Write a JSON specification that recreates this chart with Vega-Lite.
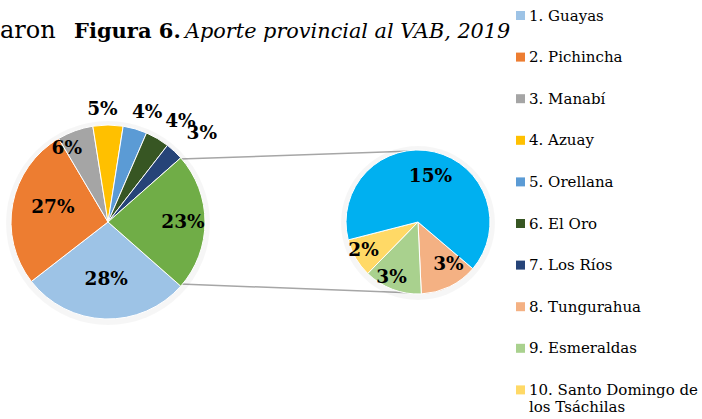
{
  "$schema": "https://vega.github.io/schema/vega-lite/v6.json",
  "width": 702,
  "height": 419,
  "autosize": {"type": "none"},
  "padding": 0,
  "background": "white",
  "config": {"view": {"stroke": null}, "font": "DejaVu Serif"},
  "datasets": {
    "principal": [
      {"prov": "1. Guayas", "pct": 0.28, "ord": 1},
      {"prov": "2. Pichincha", "pct": 0.27, "ord": 2},
      {"prov": "3. Manabí", "pct": 0.06, "ord": 3},
      {"prov": "4. Azuay", "pct": 0.05, "ord": 4},
      {"prov": "5. Orellana", "pct": 0.04, "ord": 5},
      {"prov": "6. El Oro", "pct": 0.04, "ord": 6},
      {"prov": "7. Los Ríos", "pct": 0.03, "ord": 7},
      {"prov": "Otras provincias", "pct": 0.23, "ord": 8}
    ],
    "secundario": [
      {"prov": "8. Tungurahua", "pct": 0.03, "ord": 1},
      {"prov": "9. Esmeraldas", "pct": 0.03, "ord": 2},
      {"prov": "10. Santo Domingo de los Tsáchilas", "pct": 0.02, "ord": 3},
      {"prov": "Resto", "pct": 0.15, "ord": 4}
    ],
    "titulo": [{"a": "aron", "b": "Figura 6.", "c": "Aporte provincial al VAB, 2019"}]
  },
  "layer": [
    {
      "data": {"values": [{}]},
      "mark": {"type": "rule", "stroke": "#A6A6A6", "strokeWidth": 1.5},
      "encoding": {
        "x": {"datum": 180, "type": "quantitative", "scale": {"domain": [0, 702], "nice": false, "zero": false}, "axis": null},
        "y": {"datum": 159, "type": "quantitative", "scale": {"domain": [0, 419], "nice": false, "zero": false, "reverse": true}, "axis": null},
        "x2": {"datum": 413},
        "y2": {"datum": 151}
      }
    },
    {
      "data": {"values": [{}]},
      "mark": {"type": "rule", "stroke": "#A6A6A6", "strokeWidth": 1.5},
      "encoding": {
        "x": {"datum": 180, "type": "quantitative"},
        "y": {"datum": 284, "type": "quantitative"},
        "x2": {"datum": 415},
        "y2": {"datum": 293}
      }
    },
    {
      "data": {"values": [{}]},
      "mark": {"type": "arc", "outerRadius": 102, "fill": "#000000", "opacity": 0.035},
      "encoding": {
        "x": {"datum": 108, "type": "quantitative"},
        "y": {"datum": 223, "type": "quantitative"}
      }
    },
    {
      "data": {"values": [{}]},
      "mark": {"type": "arc", "outerRadius": 77, "fill": "#000000", "opacity": 0.035},
      "encoding": {
        "x": {"datum": 418, "type": "quantitative"},
        "y": {"datum": 223, "type": "quantitative"}
      }
    },
    {
      "data": {"name": "principal"},
      "mark": {"type": "arc", "outerRadius": 97, "stroke": "white", "strokeWidth": 1},
      "encoding": {
        "x": {"datum": 108, "type": "quantitative"},
        "y": {"datum": 222, "type": "quantitative"},
        "theta": {"field": "pct", "type": "quantitative", "stack": true, "scale": {"range": [2.2934, 8.5766]}},
        "order": {"field": "ord", "type": "quantitative"},
        "color": {
          "field": "prov", "type": "nominal",
          "scale": {
            "domain": ["1. Guayas", "2. Pichincha", "3. Manabí", "4. Azuay", "5. Orellana", "6. El Oro", "7. Los Ríos", "8. Tungurahua", "9. Esmeraldas", "10. Santo Domingo de los Tsáchilas", "Otras provincias", "Resto"],
            "range": ["#9DC3E6", "#ED7D31", "#A5A5A5", "#FFC000", "#5B9BD5", "#375623", "#264478", "#F4B183", "#A9D18E", "#FFD966", "#70AD47", "#00B0F0"]
          },
          "legend": {
            "values": ["1. Guayas", "2. Pichincha", "3. Manabí", "4. Azuay", "5. Orellana", "6. El Oro", "7. Los Ríos", "8. Tungurahua", "9. Esmeraldas", "10. Santo Domingo de los Tsáchilas"],
            "title": null,
            "orient": "none",
            "legendX": 513,
            "legendY": 8,
            "padding": 0,
            "symbolType": "square",
            "symbolSize": 81,
            "symbolStrokeWidth": 0,
            "labelFont": "DejaVu Serif",
            "labelFontSize": 15,
            "labelColor": "#000000",
            "labelOffset": 1,
            "rowPadding": 25.6,
            "labelLimit": 300,
            "labelExpr": "datum.label == '10. Santo Domingo de los Tsáchilas' ? ['10. Santo Domingo de', 'los Tsáchilas'] : datum.label"
          }
        }
      }
    },
    {
      "data": {"name": "principal"},
      "mark": {
        "type": "text", "fontWeight": "bold", "fontSize": 18.5, "font": "DejaVu Serif", "color": "#000000",
        "radius": {"expr": "datum.prov == '1. Guayas' || datum.prov == '2. Pichincha' ? 57 : datum.prov == 'Otras provincias' ? 75 : datum.prov == '3. Manabí' ? 85 : datum.prov == '4. Azuay' ? 113 : datum.prov == '5. Orellana' ? 117 : datum.prov == '6. El Oro' ? 124 : 129"},
        "thetaOffset": {"expr": "datum.prov == '2. Pichincha' ? 0.07 : datum.prov == '3. Manabí' ? -0.16 : datum.prov == '4. Azuay' ? -0.05 : datum.prov == '5. Orellana' ? 0.058 : datum.prov == '6. El Oro' ? 0.09 : datum.prov == '7. Los Ríos' ? 0.06 : 0"}
      },
      "encoding": {
        "x": {"datum": 108, "type": "quantitative"},
        "y": {"datum": 222, "type": "quantitative"},
        "theta": {"field": "pct", "type": "quantitative", "stack": true, "scale": {"range": [2.2934, 8.5766]}},
        "order": {"field": "ord", "type": "quantitative"},
        "detail": {"field": "prov", "type": "nominal"},
        "text": {"field": "pct", "type": "quantitative", "format": ".0%"}
      }
    },
    {
      "data": {"name": "secundario"},
      "mark": {"type": "arc", "outerRadius": 72, "stroke": "white", "strokeWidth": 1},
      "encoding": {
        "x": {"datum": 418, "type": "quantitative"},
        "y": {"datum": 222, "type": "quantitative"},
        "theta": {"field": "pct", "type": "quantitative", "stack": true, "scale": {"range": [2.2759, 8.5591]}},
        "order": {"field": "ord", "type": "quantitative"},
        "color": {"field": "prov", "type": "nominal"}
      }
    },
    {
      "data": {"name": "secundario"},
      "mark": {
        "type": "text", "fontWeight": "bold", "fontSize": 18.5, "font": "DejaVu Serif", "color": "#000000",
        "radius": {"expr": "datum.prov == 'Resto' ? 48 : datum.prov == '8. Tungurahua' ? 52 : 61"},
        "thetaOffset": {"expr": "datum.prov == 'Resto' ? 0.035 : datum.prov == '8. Tungurahua' ? -0.17 : datum.prov == '9. Esmeraldas' ? 0.085 : 0.056"}
      },
      "encoding": {
        "x": {"datum": 418, "type": "quantitative"},
        "y": {"datum": 222, "type": "quantitative"},
        "theta": {"field": "pct", "type": "quantitative", "stack": true, "scale": {"range": [2.2759, 8.5591]}},
        "order": {"field": "ord", "type": "quantitative"},
        "detail": {"field": "prov", "type": "nominal"},
        "text": {"field": "pct", "type": "quantitative", "format": ".0%"}
      }
    },
    {
      "data": {"name": "titulo"},
      "mark": {"type": "text", "align": "left", "baseline": "alphabetic", "fontSize": 24, "font": "DejaVu Serif", "color": "#000000"},
      "encoding": {
        "x": {"datum": 0, "type": "quantitative"},
        "y": {"datum": 38, "type": "quantitative"},
        "text": {"field": "a"}
      }
    },
    {
      "data": {"name": "titulo"},
      "mark": {"type": "text", "align": "left", "baseline": "alphabetic", "fontSize": 21, "fontWeight": "bold", "font": "DejaVu Serif", "color": "#000000"},
      "encoding": {
        "x": {"datum": 74, "type": "quantitative"},
        "y": {"datum": 38, "type": "quantitative"},
        "text": {"field": "b"}
      }
    },
    {
      "data": {"name": "titulo"},
      "mark": {"type": "text", "align": "left", "baseline": "alphabetic", "fontSize": 20.8, "fontStyle": "italic", "font": "DejaVu Serif", "color": "#000000"},
      "encoding": {
        "x": {"datum": 185, "type": "quantitative"},
        "y": {"datum": 38, "type": "quantitative"},
        "text": {"field": "c"}
      }
    }
  ],
  "resolve": {"scale": {"theta": "independent"}}
}
